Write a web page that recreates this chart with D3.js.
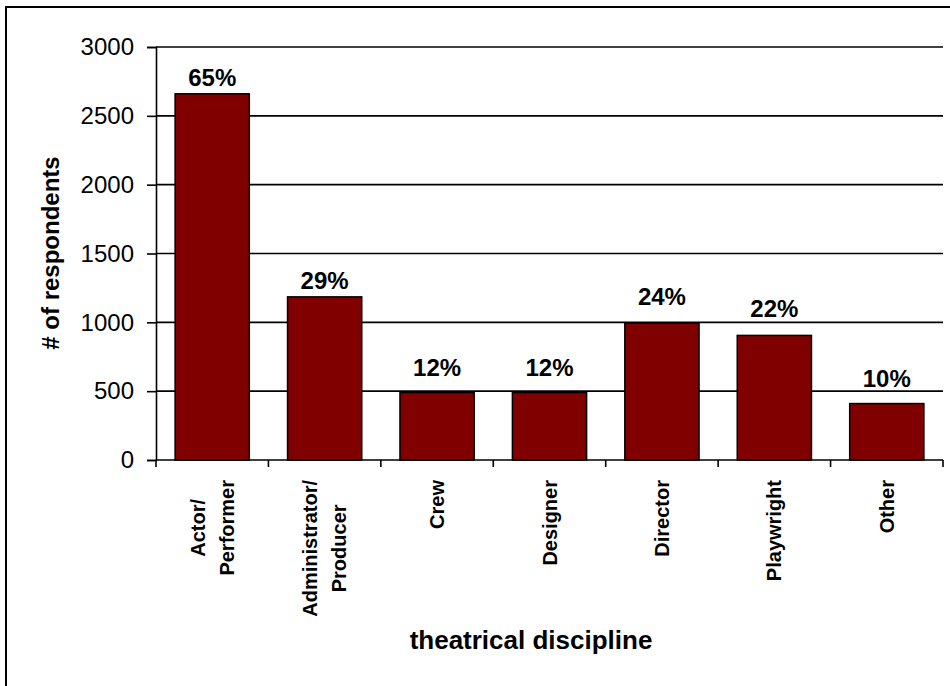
<!DOCTYPE html>
<html><head><meta charset="utf-8">
<script src="https://cdn.jsdelivr.net/npm/d3@7"></script>
<style>html,body{margin:0;padding:0;background:#fff;}svg{display:block;}</style>
</head><body>
<svg id="chart" width="950" height="686"></svg>
<script>
const categories = [["Actor/","Performer"],["Administrator/","Producer"],["Crew"],["Designer"],["Director"],["Playwright"],["Other"]];
const respondents = [2660, 1185, 490, 490, 995, 905, 410];
const percentLabels = ["65%","29%","12%","12%","24%","22%","10%"];
const yTicks = [0, 500, 1000, 1500, 2000, 2500, 3000];
const yTitle = "# of respondents";
const xTitle = "theatrical discipline";

(function(){
const svg = d3.select("#chart");
const font = "'Liberation Sans', Arial, sans-serif";
const pLeft = 156, pRight = 943, pTop = 47, pBottom = 460;
const ids = categories.map((c,i)=>i);

// outer border
svg.append("rect").attr("x",6).attr("y",7).attr("width",960).attr("height",700)
  .attr("fill","none").attr("stroke","#000").attr("stroke-width",2);

const x = d3.scaleBand().domain(ids).range([pLeft,pRight]).paddingInner(0.34).paddingOuter(0.17);
const xb = d3.scaleBand().domain(ids).range([pLeft,pRight]);
const y = d3.scaleLinear().domain([0,3000]).range([pBottom,pTop]);

// gridlines
svg.append("g").selectAll("line").data(yTicks.filter(d=>d>0)).join("line")
  .attr("x1",pLeft).attr("x2",pRight).attr("y1",d=>y(d)).attr("y2",d=>y(d))
  .attr("stroke","#000").attr("stroke-width",1.6);

// y axis
const yAxis = svg.append("g").attr("transform",`translate(${pLeft},0)`)
  .call(d3.axisLeft(y).tickValues(yTicks).tickSize(9).tickPadding(13).tickFormat(d3.format("d")));
yAxis.select(".domain").attr("stroke","#000").attr("stroke-width",1.6);
yAxis.selectAll(".tick line").attr("stroke","#000").attr("stroke-width",1.6);
yAxis.selectAll(".tick text").attr("font-family",font).attr("font-size",24).attr("fill","#000");

// bars
svg.append("g").selectAll("rect").data(respondents).join("rect")
  .attr("x",(d,i)=>x(i)).attr("width",x.bandwidth())
  .attr("y",d=>y(d)).attr("height",d=>y(0)-y(d))
  .attr("fill","#800000").attr("stroke","#000").attr("stroke-width",1.5);

// x axis
const xAxisG = svg.append("g").attr("transform",`translate(0,${pBottom})`);
xAxisG.append("line").attr("x1",pLeft).attr("x2",pRight).attr("stroke","#000").attr("stroke-width",1.6);
xAxisG.selectAll("line.tk").data(ids.concat([ids.length])).join("line").attr("class","tk")
  .attr("x1",i=> i<ids.length ? xb(i) : pRight).attr("x2",i=> i<ids.length ? xb(i) : pRight)
  .attr("y1",0).attr("y2",7).attr("stroke","#000").attr("stroke-width",1.6);

// percent labels
const labelGap = [8,8,17,17,18,18,17];
svg.append("g").selectAll("text").data(percentLabels).join("text")
  .attr("x",(d,i)=>x(i)+x.bandwidth()/2).attr("y",(d,i)=>y(respondents[i])-labelGap[i])
  .attr("text-anchor","middle").attr("font-family",font).attr("font-weight","bold")
  .attr("font-size",24).attr("fill","#000").text(d=>d);

// category labels (rotated)
const catG = svg.append("g");
categories.forEach((lines,i)=>{
  const cx = xb(i)+xb.bandwidth()/2;
  const g = catG.append("g");
  const lh = 29;
  const texts = lines.map((t,j)=> g.append("text")
    .attr("font-family",font).attr("font-weight","bold").attr("font-size",20).attr("fill","#000")
    .attr("text-anchor","middle").text(t));
  const maxW = d3.max(texts, t=>t.node().getComputedTextLength());
  const cy = 480 + maxW/2;
  const n = lines.length;
  texts.forEach((t,j)=>{
    const bx = cx + (j-(n-1)/2)*lh + 7;
    t.attr("transform",`translate(${bx},${cy}) rotate(-90)`);
  });
});

// axis titles
svg.append("text").attr("transform",`translate(59,253) rotate(-90)`)
  .attr("text-anchor","middle").attr("font-family",font).attr("font-weight","bold")
  .attr("font-size",24).attr("fill","#000").text(yTitle);
svg.append("text").attr("x",531).attr("y",649)
  .attr("text-anchor","middle").attr("font-family",font).attr("font-weight","bold")
  .attr("font-size",26).attr("fill","#000").text(xTitle);
})();
</script>
</body></html>
